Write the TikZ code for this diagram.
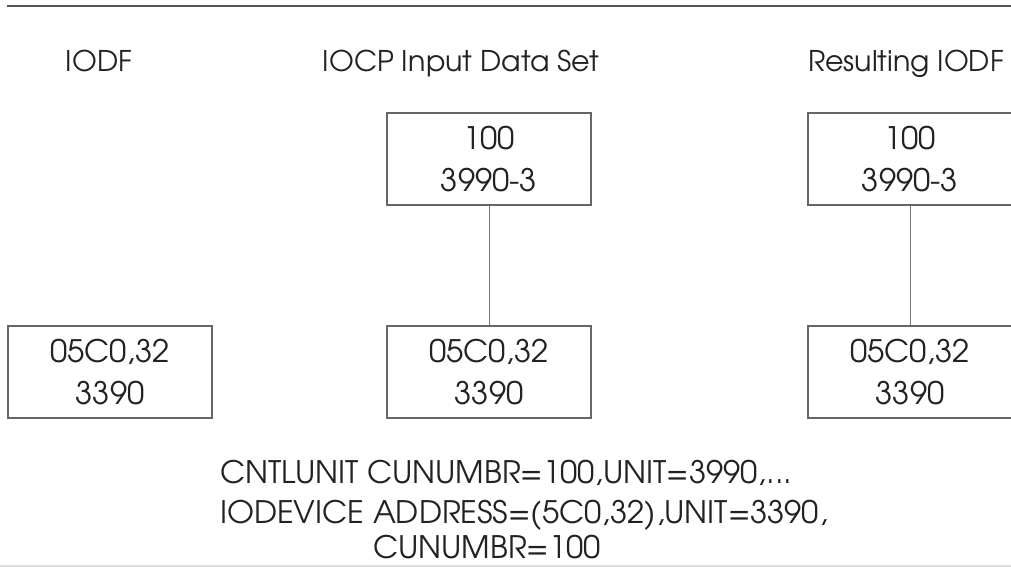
\documentclass[tikz,border=0pt]{standalone}
\usepackage{fontspec}
\setmainfont{texgyreadventor-regular.otf}
\begin{document}
\begin{tikzpicture}[x=1pt,y=-1pt,
  box/.style={draw=boxgray,line width=1.3pt,minimum width=204pt,minimum height=92pt,inner sep=0pt,align=center,font=\fontsize{31}{42}\selectfont,text=txt},
  title/.style={anchor=base,font=\fontsize{28.5}{30}\selectfont,text=txt,inner sep=0pt},
  code/.style={anchor=base west,font=\fontsize{31}{33}\selectfont,text=txt,inner sep=0pt},
  conn/.style={draw=linegray,line width=1pt}]
\definecolor{boxgray}{HTML}{666666}
\definecolor{linegray}{HTML}{777777}
\definecolor{txt}{HTML}{222222}
\definecolor{topgray}{HTML}{555555}
\definecolor{botgray}{HTML}{DDDDDD}
\useasboundingbox (0,0) rectangle (1011,567);
\fill[white] (0,0) rectangle (1011,567);
\coordinate (tl) at (7,6);
\coordinate (tr) at (1011,6);
\draw[topgray,line width=2.2pt] (tl) -- (tr);
\coordinate (bl) at (0,566);
\coordinate (br) at (1011,566);
\draw[botgray,line width=1.5pt] (bl) -- (br);
\node[title] (t1) at (99,72) {IODF};
\node[title] (t2) at (461,72) {IOCP Input Data Set};
\node[title] (t3) at (906,72) {Resulting IODF};
\node[box] (a1) at (110,372) {05C0,32\\3390};
\node[box] (b0) at (489,159) {100\\3990-3};
\node[box] (b1) at (489,372) {05C0,32\\3390};
\node[box] (c0) at (910,159) {100\\3990-3};
\node[box] (c1) at (910,372) {05C0,32\\3390};
\draw[conn] (b0) -- (b1);
\draw[conn] (c0) -- (c1);
\node[code] (l1) at (220,483) {CNTLUNIT CUNUMBR=100,UNIT=3990,...};
\node[code] (l2) at (220,523) {IODEVICE ADDRESS=(5C0,32),UNIT=3390,};
\node[code] (l3) at (220,558) {\phantom{IODEVICE }CUNUMBR=100};
\end{tikzpicture}
\end{document}
